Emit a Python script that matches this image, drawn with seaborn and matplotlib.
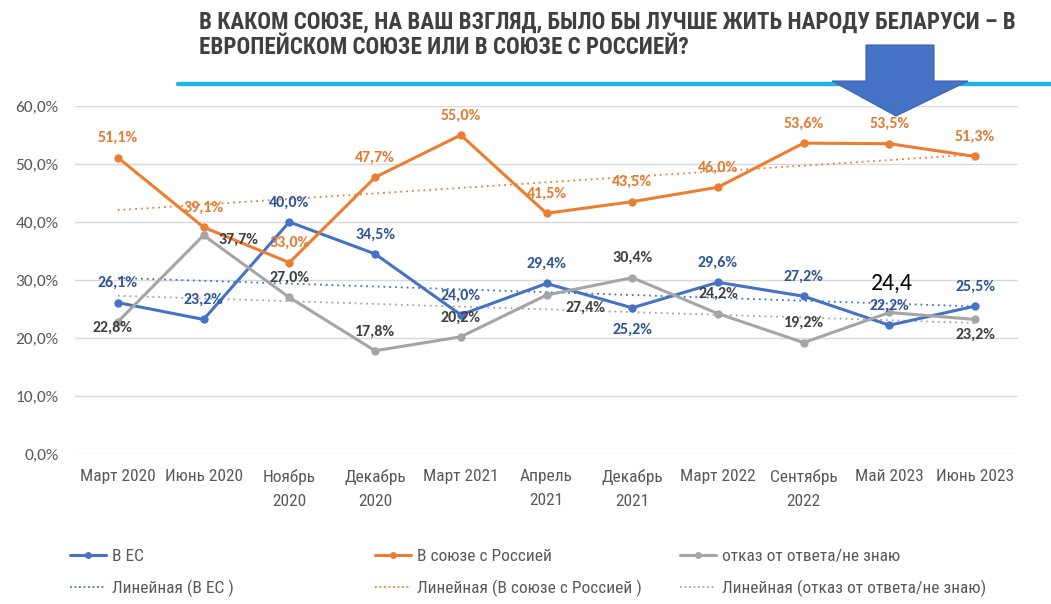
import numpy as np
import pandas as pd
import matplotlib
matplotlib.use("Agg")
import matplotlib.pyplot as plt
from matplotlib.lines import Line2D
from matplotlib.patches import Polygon
import seaborn as sns

# данные опроса
periods = ["Март 2020", "Июнь 2020", "Ноябрь\n2020", "Декабрь\n2020", "Март 2021",
           "Апрель\n2021", "Декабрь\n2021", "Март 2022", "Сентябрь\n2022", "Май 2023", "Июнь 2023"]
eu = [26.1, 23.2, 40.0, 34.5, 24.0, 29.4, 25.2, 29.6, 27.2, 22.2, 25.5]
russia = [51.1, 39.1, 33.0, 47.7, 55.0, 41.5, 43.5, 46.0, 53.6, 53.5, 51.3]
dontknow = [22.8, 37.7, 27.0, 17.8, 20.2, 27.4, 30.4, 24.2, 19.2, 24.4, 23.2]
names = ["В ЕС", "В союзе с Россией", "отказ от ответа/не знаю"]

line_colors = ["#4472C4", "#ED7D31", "#A5A5A5"]
label_colors = ["#2F5597", "#E47A30", "#404040"]

# смещения подписей (в пунктах)
eu_off = [(0, 14)] * 6 + [(0, -16)] + [(0, 14)] * 4
ru_off = [(0, 14)] * 11
dk_off = [(-4, -4), (25, -3), (0, 14), (0, 14), (0, 14), (28, -9), (0, 14), (0, 14), (0, 14), None, (0, -11)]

COND = ['Roboto Condensed', 'PT Sans Narrow', 'Fira Sans Condensed', 'IBM Plex Sans Condensed',
        'Sofia Sans Condensed', 'DejaVu Sans']
LBL = ['Carlito', 'Roboto', 'DejaVu Sans']

sns.set_style("white")
plt.rcParams['font.family'] = COND

fig = plt.figure(figsize=(10.51, 6.04), dpi=100)
ax = fig.add_axes([75 / 1051, 1 - 454 / 604, 943 / 1051, 348 / 604])

x = np.arange(len(periods))
df = pd.DataFrame({"x": np.tile(x, 3),
                   "value": eu + russia + dontknow,
                   "series": np.repeat(names, len(x))})

sns.lineplot(data=df, x="x", y="value", hue="series", palette=line_colors,
             marker="o", markersize=6, markeredgewidth=0, linewidth=2.2,
             legend=False, ax=ax, zorder=3)

# линейные тренды
for i, name in enumerate(names):
    sub = df[df["series"] == name]
    sns.regplot(data=sub, x="x", y="value", scatter=False, ci=None, truncate=True,
                line_kws=dict(color=line_colors[i], linestyle=(0, (1, 2.2)), linewidth=1.3),
                ax=ax)

# подписи данных
for vals, offs, col in [(eu, eu_off, label_colors[0]), (russia, ru_off, label_colors[1]),
                        (dontknow, dk_off, label_colors[2])]:
    for xi, v, off in zip(x, vals, offs):
        if off is None:
            continue
        ax.annotate(f"{v:.1f}%".replace(".", ","), (xi, v), xytext=off,
                    textcoords="offset points", ha="center", va="center",
                    fontsize=11.5, fontweight="bold", color=col, family=LBL, zorder=5)
ax.annotate(f"{dontknow[9]:.1f}".replace(".", ","), (x[9], dontknow[9]), xytext=(2, 21),
            textcoords="offset points", ha="center", va="center",
            fontsize=17, color="black", family=LBL, zorder=5)

ax.set_xlim(-0.5, len(periods) - 0.5)
ax.set_ylim(0, 60)
ax.set_yticks(np.arange(0, 61, 10))
ax.set_yticklabels([f"{v:.1f}%".replace(".", ",") for v in np.arange(0, 61, 10)],
                   fontsize=12.5, color="#595959", family=LBL)
ax.set_xticks(x)
ax.set_xticklabels(periods, fontsize=12.5, color="#595959", linespacing=1.75)
ax.tick_params(axis="both", length=0)
ax.tick_params(axis="x", pad=11)
ax.tick_params(axis="y", pad=12)
ax.grid(axis="y", color="#D9D9D9", linewidth=1)
ax.set_axisbelow(True)
ax.set_xlabel("")
ax.set_ylabel("")
for s in ax.spines.values():
    s.set_visible(False)

# легенда: три колонки по две строки
leg_x = [70, 375, 680]
for i, name in enumerate(names):
    h = [Line2D([], [], color=line_colors[i], linewidth=2.2, marker="o",
                markersize=5, markeredgewidth=0),
         Line2D([], [], color=line_colors[i], linewidth=1.3, linestyle=(0, (1, 1.5)))]
    l = [name, f"Линейная ({name}{' ' if i < 2 else ''})"]
    leg = fig.legend(h, l, loc="upper left", bbox_to_anchor=(leg_x[i] / 1051, 1 - 549 / 604),
                     frameon=False, fontsize=12.5, handlelength=2.1, handletextpad=0.3,
                     labelspacing=0.9, borderpad=0, borderaxespad=0, labelcolor="#595959")

# заголовок
fig.text(199 / 1051, 1 - 22 / 604, "В КАКОМ СОЮЗЕ, НА ВАШ ВЗГЛЯД, БЫЛО БЫ ЛУЧШЕ ЖИТЬ НАРОДУ БЕЛАРУСИ – В",
         fontsize=16.6, fontweight="bold", color="#404040", va="center")
fig.text(199 / 1051, 1 - 48 / 604, "ЕВРОПЕЙСКОМ СОЮЗЕ ИЛИ В СОЮЗЕ С РОССИЕЙ?",
         fontsize=16.6, fontweight="bold", color="#404040", va="center")

fig.add_artist(Line2D([178 / 1051, 1], [1 - 84 / 604] * 2, color="#1FB4E8", linewidth=3.2,
                      transform=fig.transFigure))
pts = [(866, 45), (934, 45), (934, 81), (968, 81), (896, 116), (832, 81), (866, 81)]
fig.add_artist(Polygon([(px / 1051, 1 - py / 604) for px, py in pts], closed=True,
                       facecolor="#4472C4", edgecolor="#3A64AE", linewidth=0.8,
                       transform=fig.transFigure, zorder=10))

fig.savefig("out.png", dpi=100)
